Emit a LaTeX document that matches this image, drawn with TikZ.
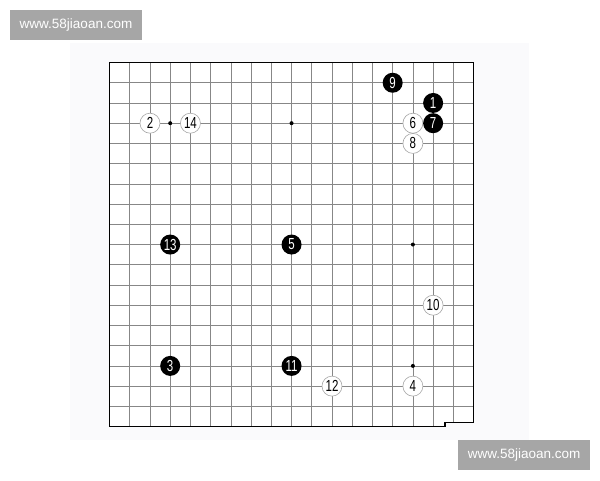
\documentclass[tikz,border=0pt]{standalone}
\usepackage{fontspec}
\setmainfont{Liberation Sans}
\usetikzlibrary{positioning}
\definecolor{paper}{RGB}{250,250,252}
\definecolor{gridgray}{RGB}{135,135,135}
\definecolor{markgray}{RGB}{166,166,166}
\tikzset{
  stone/.style={circle,minimum size=20pt,inner sep=0pt,font=\fontsize{16}{16}\selectfont},
  blackstone/.style={stone,fill=black,text=white},
  whitestone/.style={stone,fill=white,draw=gray!70,line width=0.6pt,text=black},
  wmark/.style={fill=markgray,text=white,minimum width=132pt,minimum height=30pt,inner sep=0pt,font=\fontsize{13.5}{13.5}\selectfont}
}
\newcommand{\stonenum}[1]{\scalebox{0.72}[1]{#1}}

\begin{document}
\begin{tikzpicture}[x=20.22pt,y=-20.22pt]
      \useasboundingbox (-4.415,-2.091) rectangle (25.25,21.648);
      \fill[paper] (-0.954,0.036) rectangle (21.747,19.67);
      % board
      \fill[white] (1,1) -- (19,1) -- (19,18.79) -- (17.59,18.79) -- (17.59,19) -- (1,19) -- cycle;
      \foreach \i in {2,...,18} {
        \draw[gridgray,line width=0.7pt] (\i,1) -- (\i,19);
        \draw[gridgray,line width=0.7pt] (1,\i) -- (19,\i);
      }
      \fill[paper] (17.59,18.79) rectangle (19.3,19.3);
      \draw[line width=1.3pt] (1,1) -- (19,1) -- (19,18.79) -- (17.59,18.79) -- (17.59,19) -- (1,19) -- cycle;
      \foreach \c in {4,10,16}
        \foreach \r in {4,10,16}
          \fill (\c,\r) circle (2pt);
      % stones
      \node[blackstone] (b1) at (17,3) {\stonenum{1}};
      \node[whitestone] (w2) at (3,4) {\stonenum{2}};
      \node[blackstone] (b3) at (4,16) {\stonenum{3}};
      \node[whitestone] (w4) at (16,17) {\stonenum{4}};
      \node[blackstone] (b5) at (10,10) {\stonenum{5}};
      \node[whitestone] (w6) at (16,4) {\stonenum{6}};
      \node[blackstone] (b7) at (17,4) {\stonenum{7}};
      \node[whitestone] (w8) at (16,5) {\stonenum{8}};
      \node[blackstone] (b9) at (15,2) {\stonenum{9}};
      \node[whitestone] (w10) at (17,13) {\stonenum{10}};
      \node[blackstone] (b11) at (10,16) {\stonenum{11}};
      \node[whitestone] (w12) at (12,17) {\stonenum{12}};
      \node[blackstone] (b13) at (4,10) {\stonenum{13}};
      \node[whitestone] (w14) at (5,4) {\stonenum{14}};
      % watermarks
      \node[wmark] (marktop) at (-0.657,-0.855) {www.58jiaoan.com};
      \node[wmark] (markbottom) at (21.5,20.41) {www.58jiaoan.com};
\end{tikzpicture}
\end{document}
